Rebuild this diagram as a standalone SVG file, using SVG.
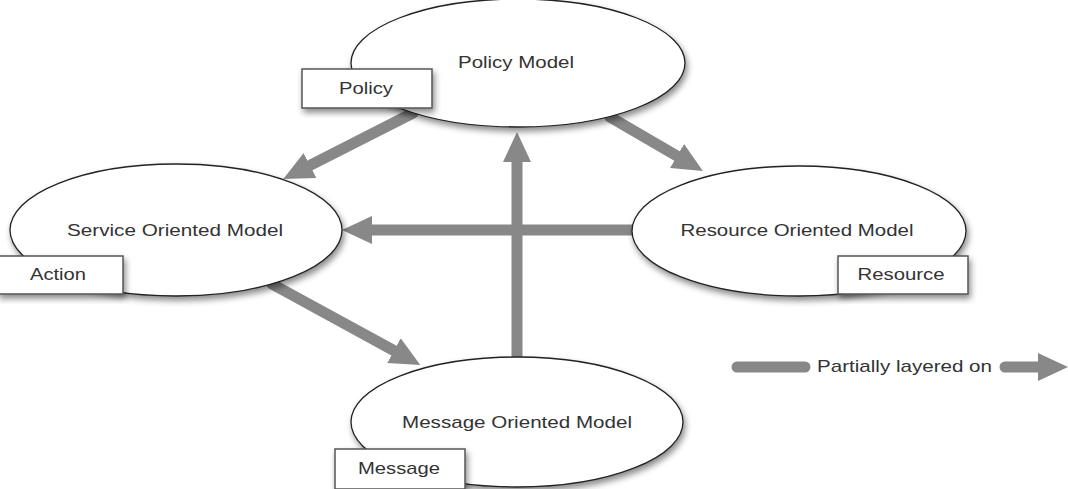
<svg xmlns="http://www.w3.org/2000/svg" width="1068" height="489" viewBox="0 0 1068 489">
<style>
.ell{fill:#fff;stroke:#222;stroke-width:1.3;filter:url(#sh)}
.box{fill:#fff;stroke:#555;stroke-width:1.5;filter:url(#sh)}
.t{font-family:"Liberation Sans",Arial,sans-serif;font-size:17px;fill:#333;text-anchor:middle}
.c{stroke:#888;stroke-width:11;stroke-linecap:round;fill:none;marker-end:url(#ah)}
</style>
<defs>
<filter id="sh" x="-10%" y="-10%" width="125%" height="135%">
<feDropShadow dx="2" dy="4" stdDeviation="3" flood-color="#000" flood-opacity="0.45"/>
</filter>
<marker id="ah" markerUnits="userSpaceOnUse" viewBox="0 -15 30 30" markerWidth="30" markerHeight="30" refX="0" refY="0" orient="auto">
<path d="M0,-14 L30,0 L0,14 Z" fill="#888"/>
</marker>
</defs>
<g id="connectors">
<line class="c" x1="413" y1="113" x2="310" y2="165.4"/>
<line class="c" x1="610" y1="117" x2="677" y2="156"/>
<line class="c" x1="635" y1="230" x2="372" y2="230"/>
<line class="c" x1="517" y1="357" x2="517" y2="162"/>
<line class="c" x1="272" y1="284" x2="394" y2="350.6"/>
</g>
<g id="policy-model">
<ellipse class="ell" cx="518" cy="63" rx="167" ry="64"/>
<text class="t" x="516" y="68" textLength="116" lengthAdjust="spacingAndGlyphs">Policy Model</text>
</g>
<g id="policy">
<rect class="box" x="302" y="69" width="130" height="39"/>
<text class="t" x="366" y="94" textLength="54" lengthAdjust="spacingAndGlyphs">Policy</text>
</g>
<g id="service-oriented-model">
<ellipse class="ell" cx="176" cy="230" rx="166" ry="66"/>
<text class="t" x="175" y="236" textLength="216" lengthAdjust="spacingAndGlyphs">Service Oriented Model</text>
</g>
<g id="action">
<rect class="box" x="-2" y="256" width="125" height="38"/>
<text class="t" x="58" y="280" textLength="56" lengthAdjust="spacingAndGlyphs">Action</text>
</g>
<g id="resource-oriented-model">
<ellipse class="ell" cx="799" cy="231" rx="167" ry="65"/>
<text class="t" x="797" y="236" textLength="233" lengthAdjust="spacingAndGlyphs">Resource Oriented Model</text>
</g>
<g id="resource">
<rect class="box" x="838" y="256" width="130" height="38"/>
<text class="t" x="901" y="280" textLength="87" lengthAdjust="spacingAndGlyphs">Resource</text>
</g>
<g id="message-oriented-model">
<ellipse class="ell" cx="517" cy="422" rx="166" ry="65"/>
<text class="t" x="517" y="428" textLength="230" lengthAdjust="spacingAndGlyphs">Message Oriented Model</text>
</g>
<g id="message">
<rect class="box" x="335" y="449" width="130" height="40"/>
<text class="t" x="399" y="474" textLength="82" lengthAdjust="spacingAndGlyphs">Message</text>
</g>
<g id="legend">
<line x1="737" y1="367" x2="805" y2="367" stroke="#888" stroke-width="11" stroke-linecap="round"/>
<text class="t" x="904.5" y="372" textLength="175" lengthAdjust="spacingAndGlyphs">Partially layered on</text>
<line class="c" x1="1005" y1="367" x2="1038" y2="367" stroke-linecap="butt"/>
</g>
</svg>
